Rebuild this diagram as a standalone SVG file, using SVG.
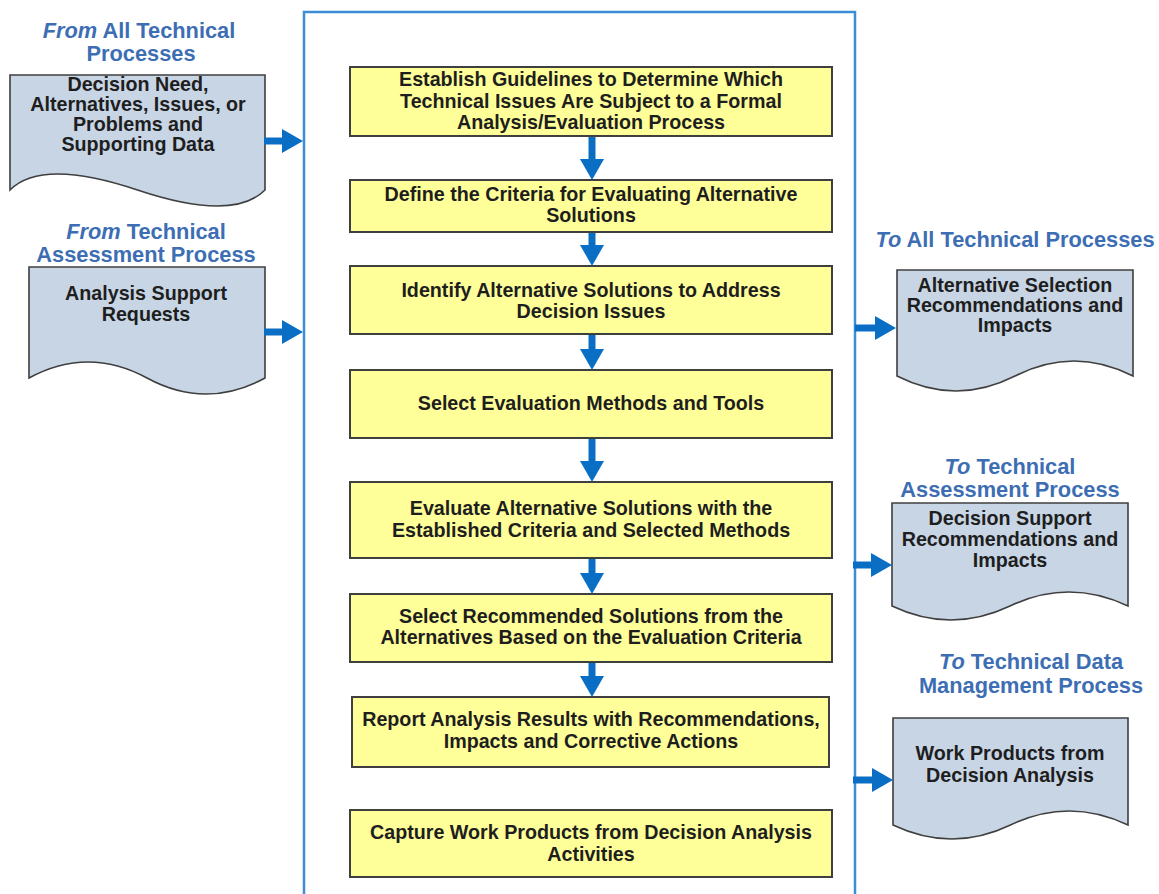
<svg xmlns="http://www.w3.org/2000/svg" width="1159" height="894" viewBox="0 0 1159 894">
<defs>
<style>
.bg{fill:#ffffff}
.frame{fill:none;stroke:#3B8ED6;stroke-width:2.5}
.step{fill:#FFFF99;stroke:#3F3F3F;stroke-width:2}
.doc{fill:#C8D5E5;stroke:#3F3F3F;stroke-width:1.6}
.t{font-family:"Liberation Sans",Arial,sans-serif;font-weight:bold;font-size:19.7px;fill:#1E1E1E;text-anchor:middle}
.lbl{font-family:"Liberation Sans",Arial,sans-serif;font-weight:bold;font-size:21.8px;fill:#3D6EB4;text-anchor:middle}
.it{font-style:italic}
.arr{stroke:#0A6EC4;stroke-width:7;fill:none;marker-end:url(#ah)}
</style>
<marker id="ah" markerUnits="userSpaceOnUse" markerWidth="24" markerHeight="24" refX="1" refY="12" orient="auto">
<path d="M0,0 L21,12 L0,24 Z" fill="#0A6EC4"/>
</marker>
</defs>
<rect class="bg" x="0" y="0" width="1159" height="894"/>
<g id="container">
<rect class="frame" x="304" y="12" width="551" height="900"/>
</g>

<g id="in1">
<text class="lbl" x="139" y="38"><tspan class="it">From</tspan> All Technical</text>
<text class="lbl" x="141" y="61">Processes</text>
<path class="doc" d="M10,75 H265 V190 Q233,222 137.5,190 T10,190 Z"/>
<text class="t" x="138" y="91">Decision Need,</text>
<text class="t" x="138" y="111">Alternatives, Issues, or</text>
<text class="t" x="138" y="131">Problems and</text>
<text class="t" x="138" y="151">Supporting Data</text>
</g>

<g id="in2">
<text class="lbl" x="146" y="239"><tspan class="it">From</tspan> Technical</text>
<text class="lbl" x="146" y="262">Assessment Process</text>
<path class="doc" d="M29,267 H265 V378 Q206,410 147,378 T29,378 Z"/>
<text class="t" x="146" y="300">Analysis Support</text>
<text class="t" x="146" y="320.5">Requests</text>
</g>

<g id="s1">
<rect class="step" x="350" y="67" width="482" height="69"/>
<text class="t" x="591" y="86">Establish Guidelines to Determine Which</text>
<text class="t" x="591" y="108">Technical Issues Are Subject to a Formal</text>
<text class="t" x="591" y="129">Analysis/Evaluation Process</text>
</g>
<g id="s2">
<rect class="step" x="350" y="180" width="482" height="52"/>
<text class="t" x="591" y="201">Define the Criteria for Evaluating Alternative</text>
<text class="t" x="591" y="222">Solutions</text>
</g>
<g id="s3">
<rect class="step" x="350" y="266" width="482" height="68"/>
<text class="t" x="591" y="297">Identify Alternative Solutions to Address</text>
<text class="t" x="591" y="317.5">Decision Issues</text>
</g>
<g id="s4">
<rect class="step" x="350" y="370" width="482" height="68"/>
<text class="t" x="591" y="410">Select Evaluation Methods and Tools</text>
</g>
<g id="s5">
<rect class="step" x="350" y="482" width="482" height="76"/>
<text class="t" x="591" y="515">Evaluate Alternative Solutions with the</text>
<text class="t" x="591" y="537">Established Criteria and Selected Methods</text>
</g>
<g id="s6">
<rect class="step" x="350" y="594" width="482" height="68"/>
<text class="t" x="591" y="623">Select Recommended Solutions from the</text>
<text class="t" x="591" y="644">Alternatives Based on the Evaluation Criteria</text>
</g>
<g id="s7">
<rect class="step" x="352" y="697" width="477" height="70"/>
<text class="t" x="591" y="726">Report Analysis Results with Recommendations,</text>
<text class="t" x="591" y="748">Impacts and Corrective Actions</text>
</g>
<g id="s8">
<rect class="step" x="350" y="810" width="482" height="67"/>
<text class="t" x="591" y="839">Capture Work Products from Decision Analysis</text>
<text class="t" x="591" y="861">Activities</text>
</g>

<g id="out1">
<text class="lbl" x="1015" y="247"><tspan class="it">To</tspan> All Technical Processes</text>
<path class="doc" d="M897,270 H1133 V376 Q1074,346 1015,376 T897,376 Z"/>
<text class="t" x="1015" y="292">Alternative Selection</text>
<text class="t" x="1015" y="312">Recommendations and</text>
<text class="t" x="1015" y="332">Impacts</text>
</g>
<g id="out2">
<text class="lbl" x="1010" y="474"><tspan class="it">To</tspan> Technical</text>
<text class="lbl" x="1010" y="497">Assessment Process</text>
<path class="doc" d="M892,503 H1128 V606 Q1069,578 1010,606 T892,606 Z"/>
<text class="t" x="1010" y="525">Decision Support</text>
<text class="t" x="1010" y="546">Recommendations and</text>
<text class="t" x="1010" y="567">Impacts</text>
</g>
<g id="out3">
<text class="lbl" x="1031" y="669"><tspan class="it">To</tspan> Technical Data</text>
<text class="lbl" x="1031" y="693">Management Process</text>
<path class="doc" d="M893,718 H1128 V825 Q1069,797 1010.5,825 T893,825 Z"/>
<text class="t" x="1010" y="760">Work Products from</text>
<text class="t" x="1010" y="782">Decision Analysis</text>
</g>

<g id="connectors">
<line class="arr" x1="592" y1="137" x2="592" y2="160"/>
<line class="arr" x1="592" y1="233" x2="592" y2="246"/>
<line class="arr" x1="592" y1="335" x2="592" y2="350"/>
<line class="arr" x1="592" y1="439" x2="592" y2="462"/>
<line class="arr" x1="592" y1="559" x2="592" y2="574"/>
<line class="arr" x1="592" y1="663" x2="592" y2="677"/>
<line class="arr" x1="264" y1="141" x2="283" y2="141"/>
<line class="arr" x1="264" y1="332" x2="283" y2="332"/>
<line class="arr" x1="855" y1="328" x2="876" y2="328"/>
<line class="arr" x1="853" y1="565" x2="872" y2="565"/>
<line class="arr" x1="853" y1="780" x2="873" y2="780"/>
</g>
</svg>
